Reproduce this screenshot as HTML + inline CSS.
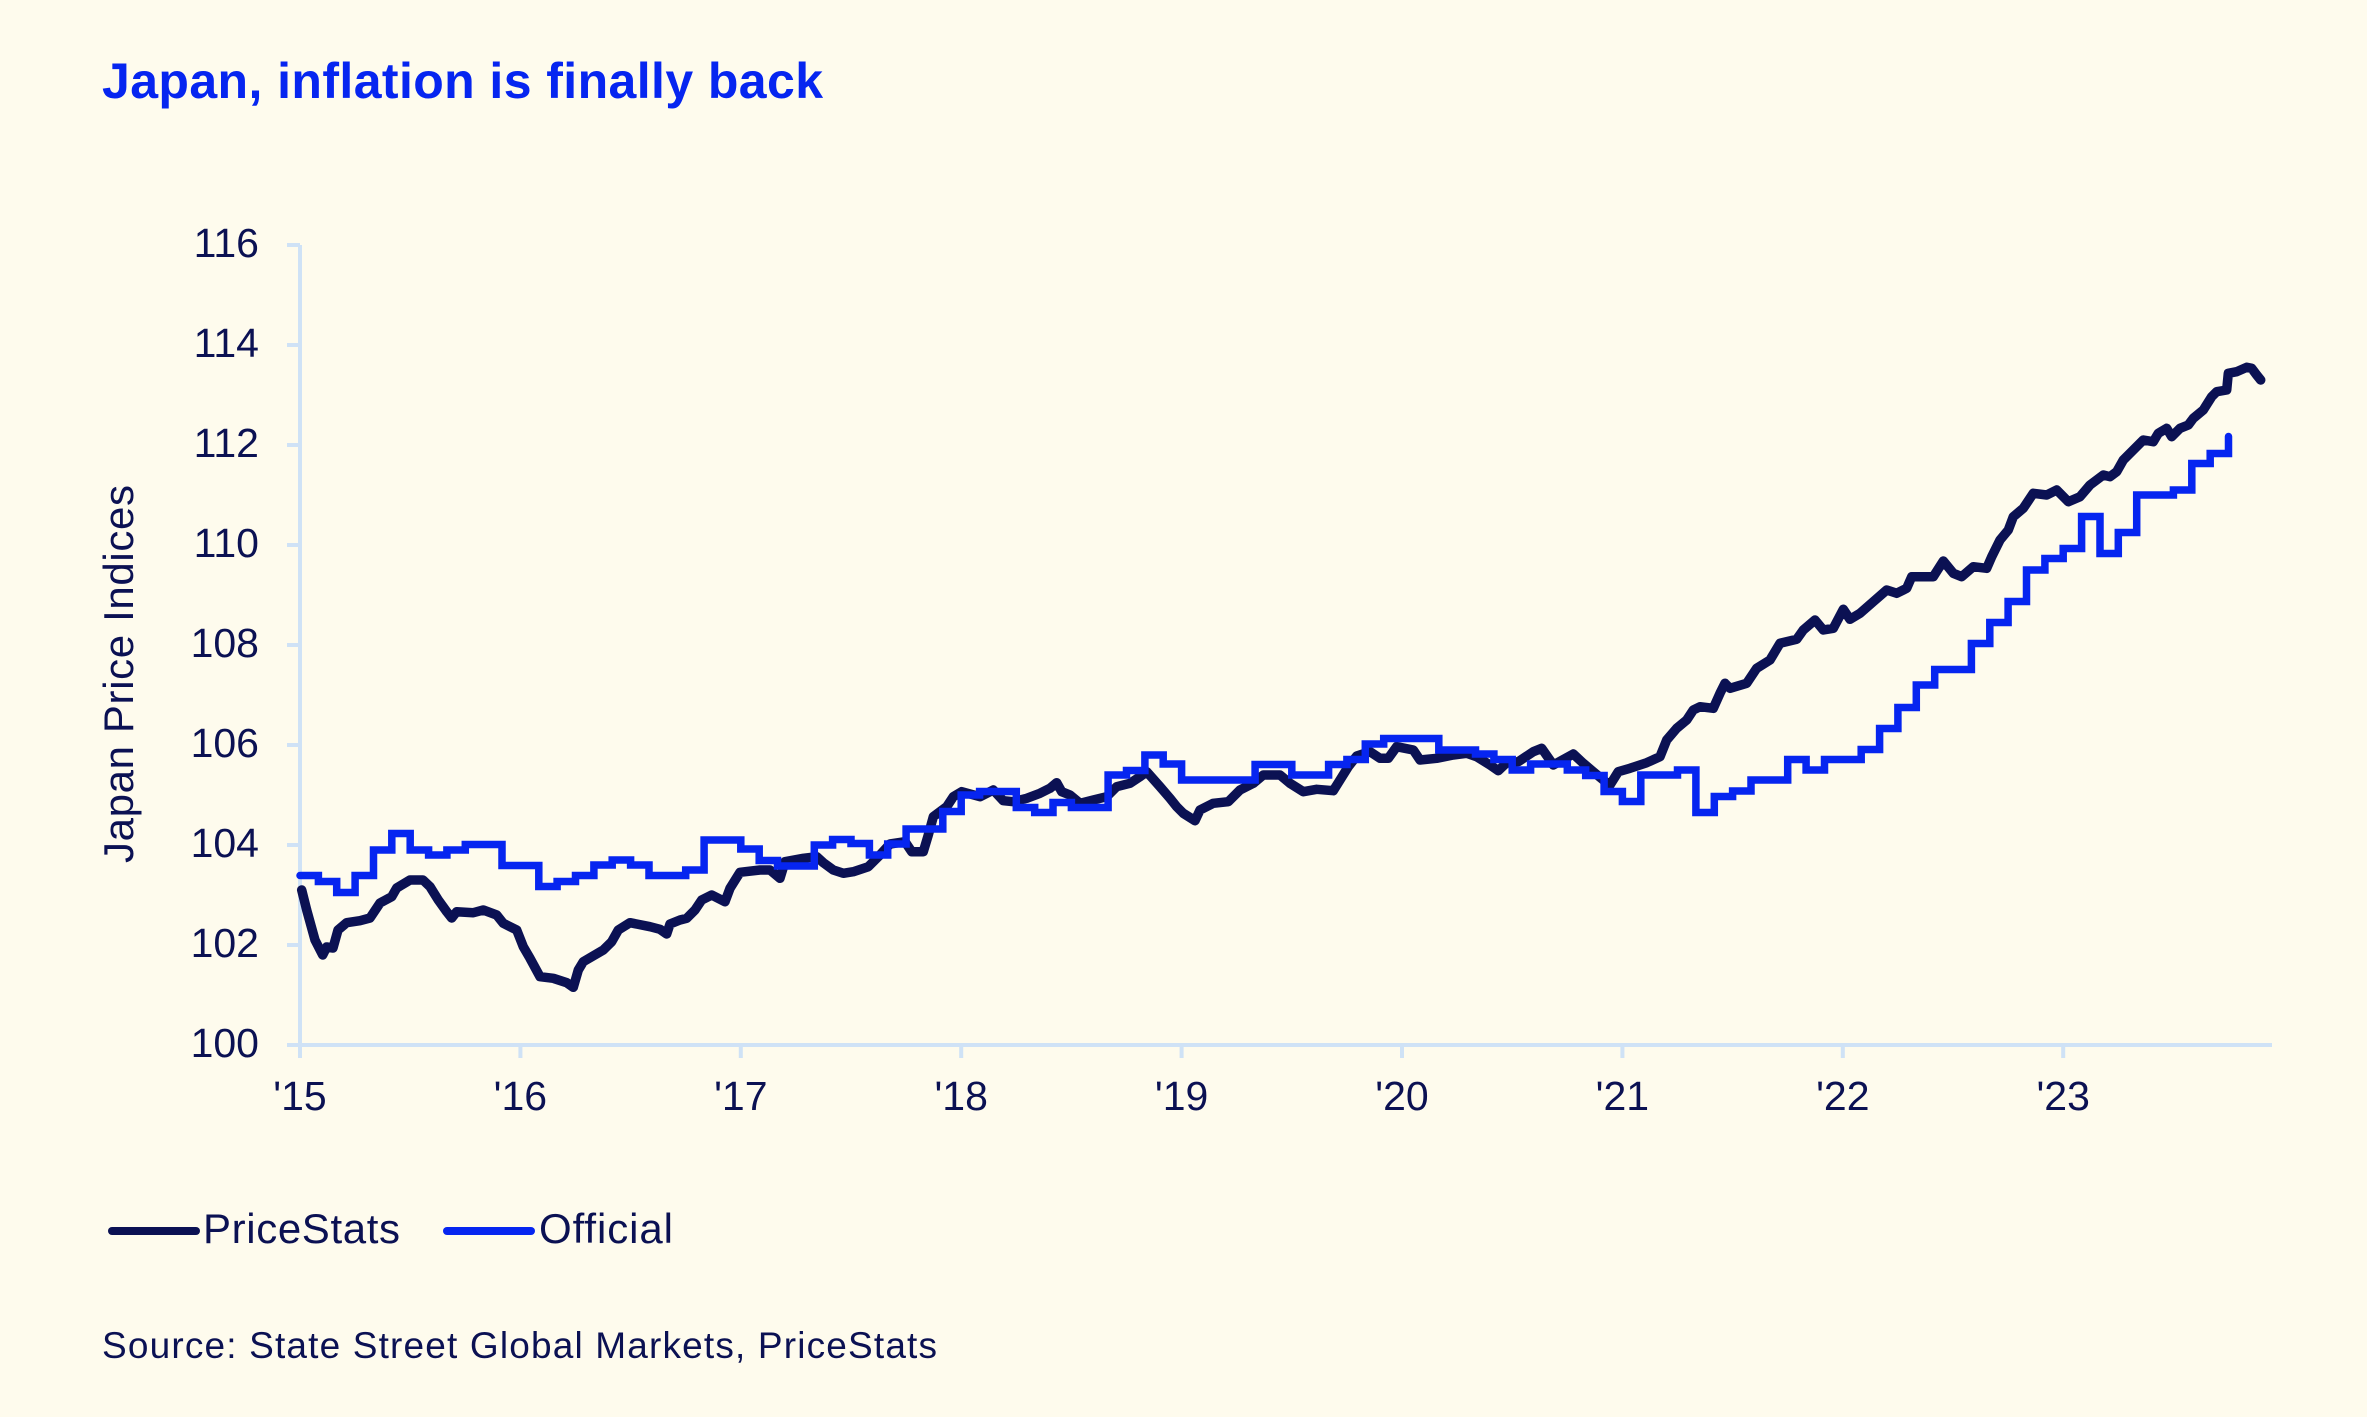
<!DOCTYPE html>
<html>
<head>
<meta charset="utf-8">
<style>
html,body{margin:0;padding:0;background:#fefbed;}
body{width:2367px;height:1417px;overflow:hidden;}
svg{display:block;}
text{font-family:"Liberation Sans",Arial,sans-serif;}
</style>
</head>
<body>
<svg width="2367" height="1417" viewBox="0 0 2367 1417" xmlns="http://www.w3.org/2000/svg">
<rect x="0" y="0" width="2367" height="1417" fill="#fefbed"/>
<text x="102" y="98" font-size="50" font-weight="bold" fill="#0625f0" textLength="721" lengthAdjust="spacing">Japan, inflation is finally back</text>

<g stroke="#cfe2f6" stroke-width="4" fill="none">
<line x1="300" y1="245" x2="300" y2="1058"/>
<line x1="287" y1="1045" x2="2272" y2="1045"/>
<line x1="287" y1="245" x2="300" y2="245"/>
<line x1="287" y1="345" x2="300" y2="345"/>
<line x1="287" y1="445" x2="300" y2="445"/>
<line x1="287" y1="545" x2="300" y2="545"/>
<line x1="287" y1="645" x2="300" y2="645"/>
<line x1="287" y1="745" x2="300" y2="745"/>
<line x1="287" y1="845" x2="300" y2="845"/>
<line x1="287" y1="945" x2="300" y2="945"/>
<line x1="520.4" y1="1045" x2="520.4" y2="1058"/>
<line x1="740.8" y1="1045" x2="740.8" y2="1058"/>
<line x1="961.2" y1="1045" x2="961.2" y2="1058"/>
<line x1="1181.6" y1="1045" x2="1181.6" y2="1058"/>
<line x1="1402" y1="1045" x2="1402" y2="1058"/>
<line x1="1622.4" y1="1045" x2="1622.4" y2="1058"/>
<line x1="1842.8" y1="1045" x2="1842.8" y2="1058"/>
<line x1="2063.2" y1="1045" x2="2063.2" y2="1058"/>
</g>

<g font-size="41" fill="#0b1153" text-anchor="end">
<text x="259" y="257">116</text>
<text x="259" y="357">114</text>
<text x="259" y="457">112</text>
<text x="259" y="557">110</text>
<text x="259" y="657">108</text>
<text x="259" y="757">106</text>
<text x="259" y="857">104</text>
<text x="259" y="957">102</text>
<text x="259" y="1057">100</text>
</g>
<g font-size="41" fill="#0b1153" text-anchor="middle">
<text x="300" y="1110">'15</text>
<text x="520.4" y="1110">'16</text>
<text x="740.8" y="1110">'17</text>
<text x="961.2" y="1110">'18</text>
<text x="1181.6" y="1110">'19</text>
<text x="1402" y="1110">'20</text>
<text x="1622.4" y="1110">'21</text>
<text x="1842.8" y="1110">'22</text>
<text x="2063.2" y="1110">'23</text>
</g>
<text transform="translate(133,674) rotate(-90)" x="0" y="0" font-size="42" fill="#0b1153" text-anchor="middle" textLength="378" lengthAdjust="spacing">Japan Price Indices</text>

<path fill="none" stroke="#0b1153" stroke-width="9.5" stroke-linejoin="round" stroke-linecap="round" d="M301.7,890 L306.7,910 L315,940 L322.7,955 L326.7,947 L333,948 L338,930 L346.7,922.7 L360,920.7 L370,918 L380,903 L391.7,896.7 L396.7,888 L410,880 L423,880 L430,886.7 L438.3,900 L446.7,911.7 L451.7,918 L456.7,911.7 L473.3,912.7 L483.3,910 L496.7,915 L503.3,923.3 L516.7,930 L523.3,946.7 L530,958.3 L540,976.7 L553.3,978.3 L566.7,982.7 L573.3,987.3 L578.3,970 L583.3,961.7 L603.3,950 L611.7,941.7 L618.3,930 L630,922.7 L650,926.7 L660,929.3 L666.7,934 L670,924 L680,920 L686.7,918.3 L695,910 L701.7,900 L711.7,895 L725,901.7 L730,888.3 L740,872.3 L760,870 L770,870 L780,878.3 L785,861.7 L803.3,858.3 L816.7,856.7 L823.3,862.7 L833.3,870 L843.3,873.3 L853.3,871.7 L868.3,866.7 L880,855 L890,844 L905,841.7 L911.7,851.7 L923.3,851.7 L928.3,835 L933.3,816.7 L946.7,806.7 L953.3,796.7 L961.7,791.7 L980,796.7 L993.3,790 L1003.3,800.7 L1013.3,801.7 L1026.7,798.3 L1040,793.3 L1050,788.3 L1056.7,782.7 L1061.7,791.7 L1070,795 L1080,803.3 L1093.3,800 L1106.7,796.7 L1116.7,786.7 L1130,783.3 L1140,776.7 L1146.7,771.7 L1160,786.7 L1170,798.3 L1176.7,806.7 L1183.3,813.3 L1195,820.7 L1200,810 L1213.3,803.3 L1228.3,801.7 L1240,790 L1253.3,783.3 L1263.3,775 L1280,775 L1290,783.3 L1303.3,791.7 L1316.7,789.3 L1333.3,790.7 L1340,780 L1348.3,766.7 L1356.7,756 L1370,751.7 L1380,758.3 L1388.3,758.3 L1396.7,746.7 L1413.3,750 L1420,760 L1436.7,758.3 L1453.3,755 L1466.7,753.3 L1476.7,756.7 L1490,765 L1498.3,770.7 L1506.7,762.7 L1518.3,761.7 L1533.3,751.7 L1541.7,748.3 L1553.3,765 L1573.3,754 L1583.3,763.3 L1593.3,771.7 L1603.3,780 L1610,785 L1618.3,771.7 L1630,768.3 L1646.7,762.7 L1660,756.7 L1666.7,740 L1676.7,728.3 L1686.7,720 L1693.3,710 L1700,706.7 L1713.3,708.3 L1720,693.3 L1725,683.3 L1730,688.3 L1746.7,683.3 L1756.7,668.3 L1770,660 L1780,643.3 L1796.7,639.3 L1803.3,630 L1815,620 L1823.3,630 L1833.3,628.3 L1843.3,609.3 L1850,619.3 L1860,613.3 L1873.3,601.7 L1886.7,590 L1896.7,593.3 L1906.7,588.3 L1911.7,576.7 L1933.3,576.7 L1943.3,561 L1953.3,573.3 L1961.7,576.7 L1973.3,566.7 L1986.7,568.3 L1991.7,556.7 L2000,540 L2008.3,530 L2013.3,516.7 L2023.3,508.3 L2033.3,493.3 L2046.7,495 L2056.7,490 L2068.3,501.7 L2080,496.7 L2090,485 L2103.3,475 L2110,476.7 L2116.7,471.7 L2123.3,460 L2133.3,450 L2143.3,440 L2153.3,441.7 L2158.3,433.3 L2166.7,428.3 L2171.7,436.7 L2180,428.3 L2188.3,425 L2193.3,418.3 L2203.3,410 L2211.7,396.7 L2216.7,391.7 L2226.7,390 L2228.3,373.3 L2236.7,371.7 L2246.7,367.3 L2251.7,368.3 L2256.7,375 L2260.7,380"/>

<path fill="none" stroke="#0625f0" stroke-width="7.5" stroke-linejoin="miter" stroke-linecap="round" d="M300,875.5 H318.4 V881.5 H336.7 V892.5 H355.1 V875.5 H373.5 V850 H391.8 V833.5 H410.2 V850 H428.6 V855 H446.9 V850 H465.3 V844.5 H502.0 V865.5 H538.8 V886.5 H557.1 V881.5 H575.5 V875.5 H593.9 V865 H612.2 V860 H630.6 V865 H649.0 V875.5 H685.7 V870 H704.1 V840 H740.8 V849 H759.2 V860.5 H777.5 V866 H814.3 V845 H832.6 V839.5 H851.0 V843.5 H869.4 V855 H887.7 V844 H906.1 V829 H942.8 V811.5 H961.2 V795 H979.6 V791.5 H1016.3 V807.5 H1034.7 V812.5 H1053.0 V802.5 H1071.4 V807.5 H1108.1 V775 H1126.5 V770.5 H1144.9 V755 H1163.2 V764 H1181.6 V780 H1255.1 V764.5 H1291.8 V775 H1328.6 V764.5 H1346.9 V759.5 H1365.3 V744 H1383.7 V738.5 H1438.8 V750 H1475.5 V754 H1493.9 V759.5 H1512.2 V770 H1530.6 V764 H1567.3 V770 H1585.7 V775.5 H1604.1 V791.5 H1622.4 V801.5 H1640.8 V775 H1677.5 V770 H1695.9 V812.5 H1714.3 V796.5 H1732.6 V791 H1751.0 V780 H1787.7 V759.5 H1806.1 V770 H1824.5 V759.5 H1861.2 V749.5 H1879.6 V728.5 H1897.9 V707.5 H1916.3 V685 H1934.7 V669.5 H1971.4 V643.5 H1989.8 V622.5 H2008.1 V601.5 H2026.5 V570 H2044.9 V558.5 H2063.2 V548.5 H2081.6 V516.5 H2100.0 V553.5 H2118.3 V532.5 H2136.7 V495 H2173.4 V490 H2191.8 V463.5 H2210.2 V453.5 H2228.5 V436.5"/>

<line x1="112" y1="1231" x2="196" y2="1231" stroke="#0b1153" stroke-width="8" stroke-linecap="round"/>
<text x="203" y="1243" font-size="42" fill="#0b1153" textLength="197" lengthAdjust="spacing">PriceStats</text>
<line x1="447" y1="1231" x2="531" y2="1231" stroke="#0625f0" stroke-width="8" stroke-linecap="round"/>
<text x="539" y="1243" font-size="42" fill="#0b1153" textLength="134" lengthAdjust="spacing">Official</text>

<text x="102" y="1358" font-size="37" fill="#0b1153" textLength="835" lengthAdjust="spacing">Source: State Street Global Markets, PriceStats</text>
</svg>
</body>
</html>
